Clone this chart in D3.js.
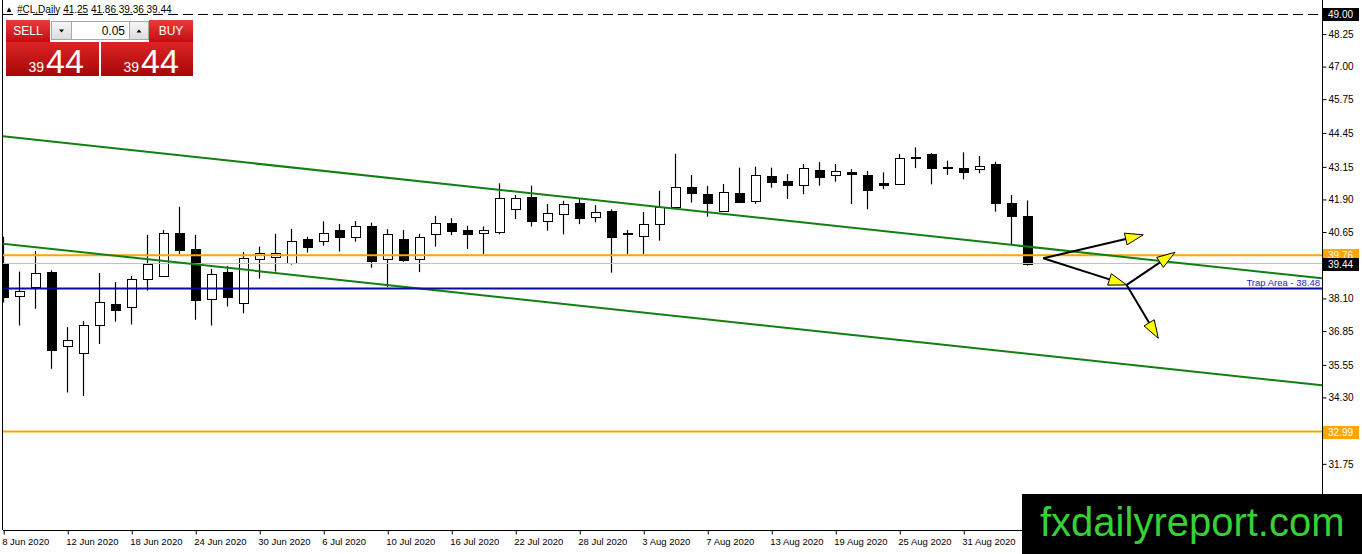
<!DOCTYPE html>
<html>
<head>
<meta charset="utf-8">
<script src="https://cdnjs.cloudflare.com/ajax/libs/d3/7.8.5/d3.min.js"></script>
<style>
body { margin: 0; background: #fff; }
svg { display: block; font-family: "Liberation Sans", Arial, sans-serif; }
</style>
</head>
<body>
<div id="chart"></div>
<script>
// daily bars, #CL
const dates = [
  '8 Jun 2020','9 Jun 2020','10 Jun 2020','11 Jun 2020','12 Jun 2020','15 Jun 2020','16 Jun 2020','17 Jun 2020',
  '18 Jun 2020','19 Jun 2020','22 Jun 2020','23 Jun 2020','24 Jun 2020','25 Jun 2020','26 Jun 2020','29 Jun 2020',
  '30 Jun 2020','1 Jul 2020','2 Jul 2020','3 Jul 2020','6 Jul 2020','7 Jul 2020','8 Jul 2020','9 Jul 2020',
  '10 Jul 2020','13 Jul 2020','14 Jul 2020','15 Jul 2020','16 Jul 2020','17 Jul 2020','20 Jul 2020','21 Jul 2020',
  '22 Jul 2020','23 Jul 2020','24 Jul 2020','27 Jul 2020','28 Jul 2020','29 Jul 2020','30 Jul 2020','31 Jul 2020',
  '3 Aug 2020','4 Aug 2020','5 Aug 2020','6 Aug 2020','7 Aug 2020','10 Aug 2020','11 Aug 2020','12 Aug 2020',
  '13 Aug 2020','14 Aug 2020','17 Aug 2020','18 Aug 2020','19 Aug 2020','20 Aug 2020','21 Aug 2020','24 Aug 2020',
  '25 Aug 2020','26 Aug 2020','27 Aug 2020','28 Aug 2020','31 Aug 2020','1 Sep 2020','2 Sep 2020','3 Sep 2020',
  '4 Sep 2020'
];
const open = [
  39.42,38.21,38.53,39.12,36.27,36.00,37.07,37.89,37.76,38.84,38.98,40.63,40.00,38.07,39.12,37.94,
  39.63,39.70,39.47,40.37,40.32,40.72,40.47,40.87,39.60,40.37,39.60,40.56,40.99,40.72,40.60,40.66,
  41.52,41.98,41.09,41.33,41.75,41.22,41.45,40.60,40.51,40.95,41.62,42.37,42.11,41.47,42.16,41.85,
  42.80,42.61,42.44,43.03,42.83,42.97,42.84,42.52,42.48,43.54,43.65,43.16,43.11,43.06,43.25,41.78,
  41.25
];
const high = [
  40.47,39.13,39.92,39.18,37.00,37.24,39.08,38.73,38.96,40.54,40.73,41.62,40.54,39.23,39.35,39.88,
  40.09,40.58,40.77,40.47,41.06,40.96,41.07,41.01,40.76,40.73,40.58,41.27,41.18,40.89,40.86,42.52,
  42.07,42.43,41.73,41.85,41.95,41.68,41.52,40.73,41.42,42.23,43.65,42.84,42.42,42.49,43.12,43.16,
  43.12,42.87,43.26,43.33,43.26,43.06,42.99,42.94,43.65,43.90,43.68,43.39,43.71,43.57,43.35,42.07,
  41.86
];
const low = [
  37.94,37.06,37.70,35.40,34.49,34.36,36.35,37.21,37.10,38.40,38.95,39.81,37.28,37.06,37.79,37.53,
  38.86,39.13,39.40,39.86,40.13,39.90,40.28,39.28,38.53,39.51,39.11,40.09,40.53,40.00,39.81,40.56,
  41.15,40.86,40.70,40.56,40.95,41.02,39.09,39.81,39.81,40.32,41.56,41.78,41.24,41.45,41.78,41.73,
  42.35,41.92,42.10,42.43,42.58,41.72,41.52,42.29,42.46,43.10,42.48,42.84,42.67,42.90,41.43,40.18,
  39.36
];
const close = [
  38.17,38.39,39.07,36.12,36.50,37.07,37.95,37.67,38.84,39.41,40.60,39.96,38.05,39.03,38.17,39.64,
  39.83,39.83,40.30,40.09,40.60,40.47,40.87,39.55,40.56,39.58,40.45,40.99,40.70,40.59,40.72,41.95,
  41.95,41.09,41.37,41.72,41.18,41.41,40.47,40.61,40.95,41.60,42.37,42.14,41.75,42.18,41.81,42.84,
  42.58,42.47,43.10,42.75,42.98,42.89,42.26,42.46,43.48,43.48,43.10,43.10,42.94,43.18,41.78,41.27,
  39.44
];

const priceTicks = [48.25, 47.00, 45.75, 44.45, 43.15, 41.90, 40.65, 38.10, 36.85, 35.55, 34.30, 31.75];

// horizontal objects
const topLevel = 49.00;
const orangeLevels = [39.76, 32.99];
const trapLevel = 38.48;
const bidLevel = 39.44;

// channel lines, [bar index, price] anchors
const channelUpper = [[0, 44.32], [64, 40.09]];
const channelLower = [[0, 40.20], [64, 35.98]];

// scenario arrows, [bar, price] from -> to
const arrows = [
  [[65.0, 39.64], [71.25, 40.54]],
  [[65.0, 39.64], [70.21, 38.62]],
  [[70.21, 38.62], [73.23, 39.87]],
  [[70.21, 38.62], [72.19, 36.57]]
];

const W = 1362, H = 554;
const plot = {left: 3, right: 1322, top: 3, bottom: 530};

const svg = d3.select('#chart').append('svg')
  .attr('width', W)
  .attr('height', H);

const x = d3.scaleLinear().domain([-0.2, 82.42]).range([0, plot.right]);
const y = d3.scaleLinear().domain([29.25, 49.44]).range([529, 3]);

const defs = svg.append('defs');
defs.append('clipPath').attr('id', 'clip')
  .append('rect')
  .attr('x', plot.left).attr('y', plot.top)
  .attr('width', plot.right - plot.left).attr('height', plot.bottom - plot.top);

function grad(id, c1, c2) {
  const g = defs.append('linearGradient').attr('id', id)
    .attr('x1', 0).attr('y1', 0).attr('x2', 0).attr('y2', 1);
  g.append('stop').attr('offset', '0%').attr('stop-color', c1);
  g.append('stop').attr('offset', '100%').attr('stop-color', c2);
}
grad('redTop', '#ea3c3c', '#c40c10');
grad('redBig', '#dc2424', '#a80808');
grad('btn', '#f7f7f7', '#dcdcdc');

const chart = svg.append('g').attr('clip-path', 'url(#clip)');

// candles
const bars = d3.range(dates.length).map(i => ({i, o: open[i], h: high[i], l: low[i], c: close[i]}));
const px = i => Math.round(x(i)) + 0.5;

const candle = chart.append('g').attr('class', 'candles')
  .selectAll('g').data(bars).join('g');

candle.append('line')
  .attr('x1', d => px(d.i)).attr('x2', d => px(d.i))
  .attr('y1', d => y(d.h)).attr('y2', d => y(d.l))
  .attr('stroke', '#000').attr('stroke-width', 1.2);

candle.append('rect')
  .attr('x', d => px(d.i) - 4.5)
  .attr('width', 9)
  .attr('y', d => Math.round(y(Math.max(d.o, d.c))) + 0.5)
  .attr('height', d => Math.max(1, Math.round(y(Math.min(d.o, d.c))) - Math.round(y(Math.max(d.o, d.c)))))
  .attr('fill', d => d.c >= d.o ? '#fff' : '#000')
  .attr('stroke', '#000')
  .attr('shape-rendering', 'crispEdges');

// levels
chart.append('line')
  .attr('x1', plot.left).attr('x2', plot.right)
  .attr('y1', y(bidLevel)).attr('y2', y(bidLevel))
  .attr('stroke', '#c0c0c0').attr('stroke-width', 1);

chart.append('line')
  .attr('x1', plot.left).attr('x2', plot.right)
  .attr('y1', y(topLevel)).attr('y2', y(topLevel))
  .attr('stroke', '#000').attr('stroke-width', 1)
  .attr('stroke-dasharray', '10,5');

chart.selectAll('.orange').data(orangeLevels).join('line')
  .attr('class', 'orange')
  .attr('x1', plot.left).attr('x2', plot.right)
  .attr('y1', d => y(d)).attr('y2', d => y(d))
  .attr('stroke', '#ffa500').attr('stroke-width', 2);

// channel, extended across the chart
[channelUpper, channelLower].forEach(ch => {
  const slope = (ch[1][1] - ch[0][1]) / (ch[1][0] - ch[0][0]);
  const at = i => ch[0][1] + slope * (i - ch[0][0]);
  const [i0, i1] = x.domain();
  chart.append('line')
    .attr('x1', x(i0)).attr('y1', y(at(i0)))
    .attr('x2', x(i1)).attr('y2', y(at(i1)))
    .attr('stroke', '#108010').attr('stroke-width', 2);
});

chart.append('line')
  .attr('x1', plot.left).attr('x2', plot.right)
  .attr('y1', y(trapLevel)).attr('y2', y(trapLevel))
  .attr('stroke', '#0a0a9c').attr('stroke-width', 2);

chart.append('text')
  .attr('x', plot.right - 2).attr('y', y(trapLevel) - 3)
  .attr('text-anchor', 'end')
  .attr('font-size', 9.5)
  .attr('fill', '#1c1cc8')
  .text('Trap Area - ' + trapLevel.toFixed(2));

// arrows
const arrowG = svg.append('g');
arrows.forEach(([from, to]) => {
  const x1 = x(from[0]), y1 = y(from[1]), x2 = x(to[0]), y2 = y(to[1]);
  const len = Math.hypot(x2 - x1, y2 - y1);
  const ux = (x2 - x1) / len, uy = (y2 - y1) / len;
  const bx = x2 - ux * 18, by = y2 - uy * 18;
  arrowG.append('line')
    .attr('x1', x1).attr('y1', y1).attr('x2', bx).attr('y2', by)
    .attr('stroke', '#000').attr('stroke-width', 2);
  arrowG.append('polygon')
    .attr('points', [[x2, y2], [bx - uy * 6, by + ux * 6], [bx + uy * 6, by - ux * 6]].join(' '))
    .attr('fill', '#ffff00').attr('stroke', '#000').attr('stroke-width', 1);
});

// frame
svg.append('line').attr('x1', 2.5).attr('x2', 2.5).attr('y1', 0).attr('y2', plot.bottom)
  .attr('stroke', '#000');
svg.append('line').attr('x1', plot.left).attr('x2', plot.right).attr('y1', plot.bottom + 0.5).attr('y2', plot.bottom + 0.5)
  .attr('stroke', '#000');

// price axis
const yAxis = d3.axisRight(y)
  .tickValues(priceTicks)
  .tickFormat(d3.format('.2f'))
  .tickSize(4)
  .tickSizeOuter(0)
  .tickPadding(2);

const gy = svg.append('g')
  .attr('transform', 'translate(' + (plot.right + 0.5) + ',0)')
  .call(yAxis);
gy.select('.domain').attr('stroke', '#000').attr('d', 'M0,0V' + plot.bottom);
gy.selectAll('text').attr('font-family', '"Liberation Sans", Arial, sans-serif').attr('font-size', 10).attr('fill', '#000');

// price labels in boxes
const boxes = [
  {v: topLevel, bg: '#000'},
  {v: orangeLevels[0], bg: '#ffa500'},
  {v: bidLevel, bg: '#000'},
  {v: orangeLevels[1], bg: '#ffa500'}
];
const bx = svg.append('g').selectAll('g').data(boxes).join('g')
  .attr('transform', d => 'translate(' + (plot.right + 1) + ',' + Math.round(y(d.v)) + ')');
bx.append('rect').attr('x', 0).attr('y', -6).attr('width', 36).attr('height', 13).attr('fill', d => d.bg);
bx.append('text').attr('x', 5).attr('y', 4).attr('font-size', 10).attr('fill', '#fff').text(d => d.v.toFixed(2));

// date axis, every 4th bar (the last one sits under the watermark)
const xAxis = d3.axisBottom(x)
  .tickValues(d3.range(0, dates.length - 1, 4))
  .tickFormat(i => dates[i])
  .tickSize(4)
  .tickSizeOuter(0)
  .tickPadding(4);

const gx = svg.append('g')
  .attr('transform', 'translate(0.5,' + (plot.bottom + 0.5) + ')')
  .call(xAxis);
gx.select('.domain').remove();
gx.selectAll('text')
  .attr('text-anchor', 'start')
  .attr('x', -2)
  .attr('font-family', '"Liberation Sans", Arial, sans-serif')
  .attr('font-size', 9.5)
  .attr('fill', '#000');

// header line
svg.append('text').attr('x', 5).attr('y', 12).attr('font-size', 8).text('\u25B2');
svg.append('text').attr('x', 17).attr('y', 13).attr('font-size', 10).attr('fill', '#000')
  .text('#CL,Daily  ' + [open, high, low, close].map(a => a[a.length - 1].toFixed(2)).join(' '));

// one click trading panel
const panel = svg.append('g');
panel.append('rect').attr('x', 6).attr('y', 20).attr('width', 44).attr('height', 22).attr('fill', 'url(#redTop)');
panel.append('rect').attr('x', 149).attr('y', 20).attr('width', 44).attr('height', 22).attr('fill', 'url(#redTop)');
panel.append('text').attr('x', 28).attr('y', 35).attr('text-anchor', 'middle').attr('font-size', 12).attr('fill', '#fff').text('SELL');
panel.append('text').attr('x', 171).attr('y', 35).attr('text-anchor', 'middle').attr('font-size', 12).attr('fill', '#fff').text('BUY');
panel.append('rect').attr('x', 51.5).attr('y', 21.5).attr('width', 20).attr('height', 18).attr('fill', 'url(#btn)').attr('stroke', '#a8a8a8');
panel.append('rect').attr('x', 71.5).attr('y', 21.5).attr('width', 58).attr('height', 18).attr('fill', '#fff').attr('stroke', '#a8a8a8');
panel.append('rect').attr('x', 129.5).attr('y', 21.5).attr('width', 19).attr('height', 18).attr('fill', 'url(#btn)').attr('stroke', '#a8a8a8');
panel.append('path').attr('d', 'M59,29.5h5l-2.5,3z').attr('fill', '#000');
panel.append('path').attr('d', 'M136.5,32.5h5l-2.5,-3z').attr('fill', '#000');
panel.append('text').attr('x', 125).attr('y', 35).attr('text-anchor', 'end').attr('font-size', 12).attr('fill', '#000').text('0.05');

[[6, 93], [101, 92]].forEach(([bxx, bw]) => {
  panel.append('rect').attr('x', bxx).attr('y', 42).attr('width', bw).attr('height', 34).attr('fill', 'url(#redBig)');
  const price = close[close.length - 1].toFixed(2).split('.');
  panel.append('text').attr('x', bxx + 38).attr('y', 72).attr('text-anchor', 'end')
    .attr('font-size', 14).attr('fill', '#fff').text(price[0]);
  panel.append('text').attr('x', bxx + 40).attr('y', 73)
    .attr('font-size', 34).attr('fill', '#fff').text(price[1]);
});

// watermark
svg.append('rect').attr('x', 1022).attr('y', 494).attr('width', 340).attr('height', 60).attr('fill', '#000');
svg.append('text').attr('x', 1040).attr('y', 536)
  .attr('font-size', 40).attr('fill', '#35d135')
  .text('fxdailyreport.com');
</script>
</body>
</html>
